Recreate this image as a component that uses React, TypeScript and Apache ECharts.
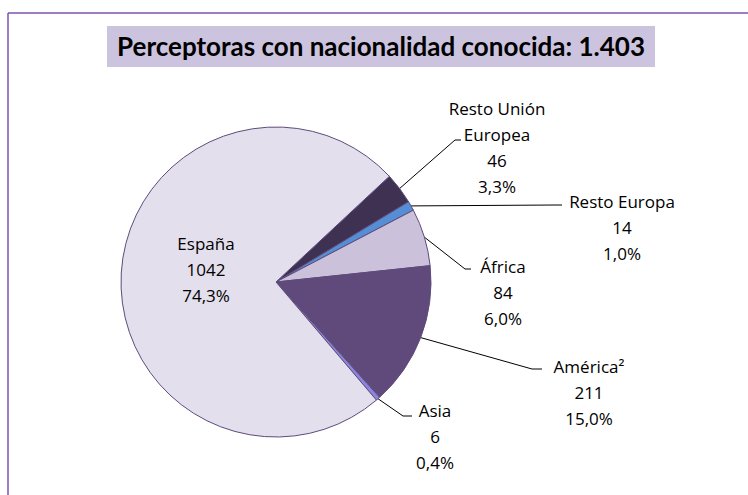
import React, { useEffect, useRef } from 'react';
import * as echarts from 'echarts';

const titleText = 'Perceptoras con nacionalidad conocida: 1.403';
const categories = ['Resto Unión Europea', 'Resto Europa', 'África', 'América²', 'Asia', 'España'];
const labelNames = ['Resto Unión\nEuropea', 'Resto Europa', 'África', 'América²', 'Asia', 'España'];
const values = [46, 14, 84, 211, 6, 1042];
const colors = ['#3F3151', '#558ED5', '#CCC1DA', '#604A7B', '#8A86E0', '#E4DFEC'];

// label placement (layout only)
const labelPlacement: any[] = [
  { x: 497, top: 95, elbow: [455, 140], end: [461, 140] },
  { x: 622, top: 188, elbow: [556, 205], end: [562, 205] },
  { x: 503, top: 253, elbow: [465, 269], end: [471, 269] },
  { x: 589, top: 353, elbow: [532, 369], end: [542, 369] },
  { x: 435, top: 397, elbow: [403, 416], end: [412, 416] },
  { x: 206, top: 230 },
];

const fmtPct = (p: number) => p.toFixed(1).replace('.', ',') + '%';

export default function App() {
  const ref = useRef<HTMLDivElement>(null);
  useEffect(() => {
    document.body.style.margin = '0';
    if (!ref.current) return;
    const chart = echarts.init(ref.current, null, { renderer: 'svg' });
    const data = categories.map((c, i) => ({
      name: c,
      value: values[i],
      itemStyle: { color: colors[i] },
      label: i === 5 ? { position: 'inside' } : undefined,
      labelLine: i === 5 ? { show: false } : undefined,
    }));
    chart.setOption({
      animation: false,
      title: {
        text: titleText,
        left: 381,
        top: 33,
        textAlign: 'center',
        padding: 0,
        textStyle: {
          fontFamily: 'Lato',
          fontWeight: 'bold',
          fontSize: 26,
          color: '#000',
        },
      },
      graphic: [
        {
          type: 'rect',
          z: -1,
          shape: { x: 107, y: 26, width: 548, height: 41 },
          style: { fill: '#CCC3DE' },
        },
        {
          type: 'line',
          shape: { x1: 8, y1: 13, x2: 748, y2: 13 },
          style: { stroke: '#7E50B4', lineWidth: 1.5 },
        },
        {
          type: 'line',
          shape: { x1: 8, y1: 13, x2: 8, y2: 495 },
          style: { stroke: '#7E50B4', lineWidth: 1.5 },
        },
      ],
      series: [
        {
          type: 'pie',
          center: [276, 282],
          radius: 155,
          startAngle: 43,
          clockwise: true,
          avoidLabelOverlap: false,
          itemStyle: { borderColor: '#5E4B7C', borderWidth: 1 },
          label: {
            show: true,
            position: 'outside',
            color: '#000',
            fontFamily: 'Open Sans',
            fontSize: 17,
            lineHeight: 26,
            align: 'center',
            formatter: (p: any) =>
              labelNames[p.dataIndex] + '\n' + p.value + '\n' + fmtPct(p.percent),
          },
          labelLine: {
            show: true,
            lineStyle: { color: '#000', width: 1 },
          },
          labelLayout: (params: any) => {
            const pl = labelPlacement[params.dataIndex];
            const res: any = { x: pl.x, y: pl.top, align: 'center', verticalAlign: 'top' };
            if (pl.end && params.labelLinePoints) {
              res.labelLinePoints = [params.labelLinePoints[0], pl.elbow, pl.end];
            }
            return res;
          },
          data,
        },
      ],
    });
    return () => chart.dispose();
  }, []);
  return <div ref={ref} style={{ width: 748, height: 495 }} />;
}
